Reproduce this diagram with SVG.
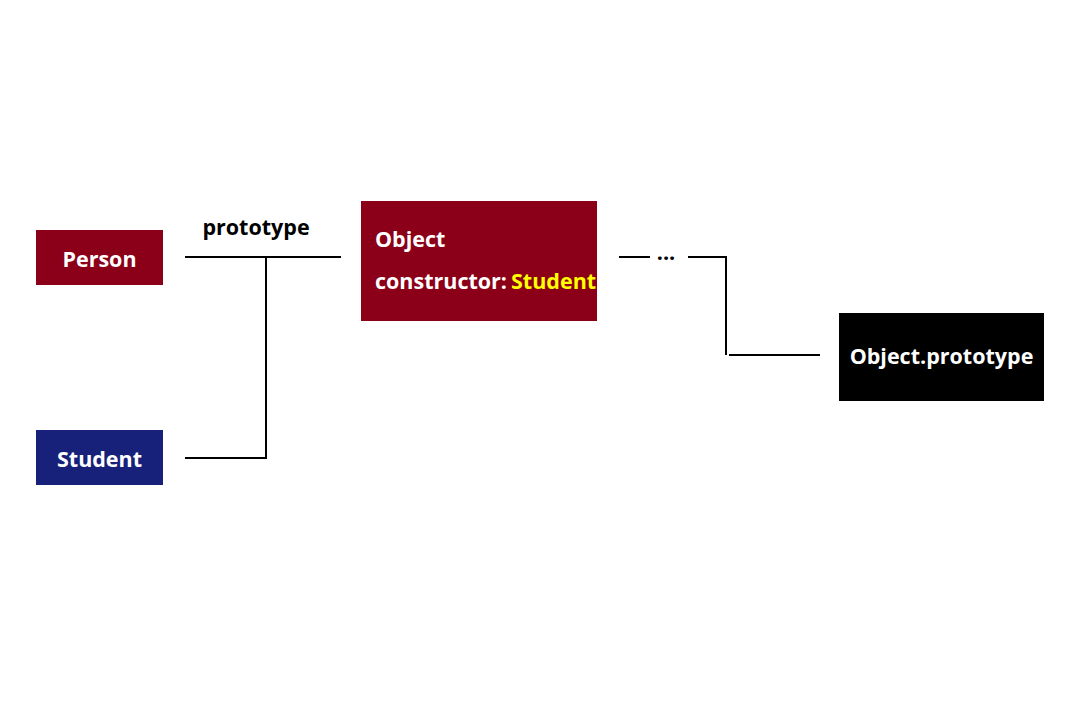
<svg xmlns="http://www.w3.org/2000/svg" width="1080" height="720" viewBox="0 0 1080 720">
<style>
.t{font-family:"Open Sans","DejaVu Sans",sans-serif;font-weight:700;font-size:21.5px}
.w{fill:#fff}
.c{stroke:#000;stroke-width:2;fill:none}
</style>
<rect width="1080" height="720" fill="#fff"/>
<g id="connectors">
<path class="c" d="M185 257H341M266 257V458H185"/>
<text class="t" x="256" y="235" text-anchor="middle">prototype</text>
<path class="c" d="M619 257H650M688 257H726V355M729 355H820"/>
<text class="t" x="666" y="260" text-anchor="middle">...</text>
</g>
<g id="person">
<rect x="36" y="230" width="127" height="55" fill="#8b0018"/>
<text class="t w" x="99.5" y="267" text-anchor="middle">Person</text>
</g>
<g id="student">
<rect x="36" y="430" width="127" height="55" fill="#17217a"/>
<text class="t w" x="99.5" y="467" text-anchor="middle">Student</text>
</g>
<g id="object">
<rect x="361" y="201" width="236" height="120" fill="#8b0018"/>
<text class="t w" x="375" y="247">Object</text>
<text class="t" x="375" y="289"><tspan fill="#fff">constructor:</tspan><tspan fill="#ffff00" dx="4">Student</tspan></text>
</g>
<g id="object-prototype">
<rect x="839" y="313" width="205" height="88" fill="#000"/>
<text class="t w" x="941.5" y="364" text-anchor="middle">Object.prototype</text>
</g>
</svg>
